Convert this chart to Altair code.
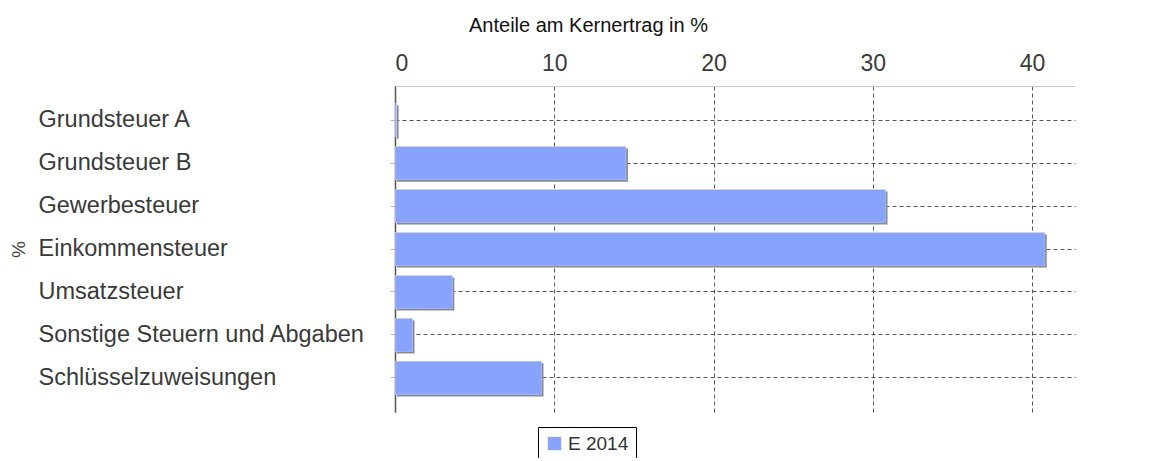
import altair as alt
import pandas as pd

categories = ["Grundsteuer A", "Grundsteuer B", "Gewerbesteuer", "Einkommensteuer",
              "Umsatzsteuer", "Sonstige Steuern und Abgaben", "Schlüsselzuweisungen"]
values = [0.1, 14.5, 30.8, 40.8, 3.6, 1.1, 9.2]
series = ["E 2014"] * len(categories)
x_ticks = [0, 10, 20, 30, 40]

df = pd.DataFrame({"Kategorie": categories, "Wert": values, "Serie": series})

FONT = "Liberation Sans"

y_enc = alt.Y("Kategorie:N", sort=categories,
              scale=alt.Scale(paddingInner=0.23, paddingOuter=0.41),
              axis=alt.Axis(title="%", titleAngle=-90, titleX=-377, titleY=163,
                            titleFont=FONT, titleFontSize=19, titleFontWeight="normal",
                            titleColor="#444", titleAlign="center", titleBaseline="middle",
                            labelFont=FONT, labelFontSize=23.5, labelColor="#3a3a3a",
                            labelAlign="left", labelPadding=352, labelLimit=400,
                            tickSize=5, tickColor="#bbb",
                            domainColor="#555", domainWidth=1.5,
                            grid=True, gridColor="#555", gridDash=[4, 3], gridWidth=1))

x_scale = alt.Scale(domain=[0, 42.7], nice=False)
x_axis = alt.Axis(orient="top", values=x_ticks, title="Anteile am Kernertrag in %",
                  titleFont=FONT, titleFontSize=20, titleFontWeight="normal", titleColor="#111",
                  titleX=193, titleY=-61, titleAlign="center", titleBaseline="middle",
                  labelFont=FONT, labelFontSize=23, labelColor="#3a3a3a", labelPadding=11,
                  ticks=False, domainColor="#ccc", domainWidth=1,
                  grid=True, gridColor="#555", gridDash=[4, 3], gridWidth=1)

shadow = alt.Chart(df).mark_bar(color="#8a8a8a", xOffset=2, x2Offset=2, yOffset=2, y2Offset=2).encode(
    x=alt.X("Wert:Q", scale=x_scale, axis=x_axis),
    y=y_enc,
)

bars = alt.Chart(df).mark_bar(stroke="#c9d4fb", strokeWidth=0.5).encode(
    x=alt.X("Wert:Q", scale=x_scale, axis=x_axis),
    y=y_enc,
    color=alt.Color("Serie:N", scale=alt.Scale(range=["#88a3fc"]),
                    legend=alt.Legend(title=None, orient="none", legendX=143, legendY=341,
                                      symbolType="square", symbolSize=180, symbolStrokeWidth=0,
                                      labelFont=FONT, labelFontSize=19, labelColor="#333",
                                      strokeColor="#000", padding=7, fillColor="white")),
)

chart = alt.layer(shadow, bars).properties(
    width=680, height=326,
    autosize=alt.AutoSizeParams(type="none"),
    padding={"left": 387, "top": 78, "right": 80, "bottom": 46},
).configure_view(stroke=None)

chart.save("out.html", embed_options={"renderer": "svg", "actions": False})
